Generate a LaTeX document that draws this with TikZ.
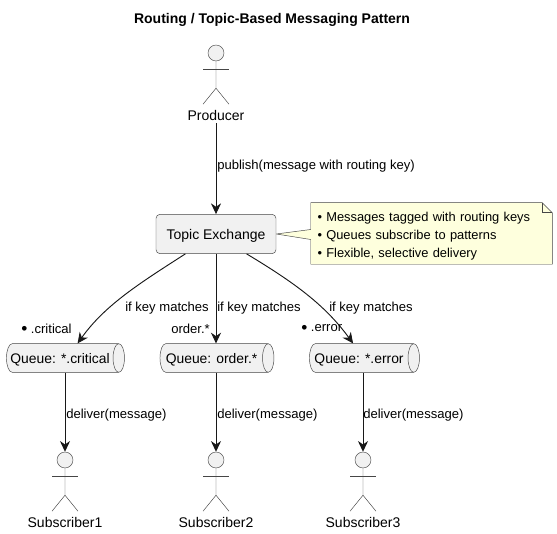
\documentclass[tikz,border=0pt]{standalone}
\usepackage{fontspec}
\setmainfont{Liberation Sans}
\usetikzlibrary{arrows.meta,shapes.geometric,backgrounds,calc}

\definecolor{boxfill}{HTML}{F1F1F1}
\definecolor{linecol}{HTML}{181818}
\definecolor{notefill}{HTML}{FEFFDD}
\newcommand{\qtxt}[1]{\makebox[0pt]{\hspace{-3.7pt}#1}}
\newcommand{\bigdot}{\raisebox{-1pt}{\fontsize{13}{12}\selectfont •}}

\tikzset{
    lbl/.style={
        inner sep=0pt,
        font=\fontsize{9.8}{12}\selectfont
    },
    actorlbl/.style={
        inner sep=0pt,
        outer sep=2.2pt,
        font=\fontsize{10.5}{12}\selectfont
    },
    exch/.style={
        draw=linecol!80,
        fill=boxfill,
        rounded corners=3pt,
        line width=.35pt,
        minimum width=90pt,
        minimum height=29.5pt,
        text height=11pt,
        text depth=2.2pt,
        font=\fontsize{10.5}{12}\selectfont
    },
    queue/.style={
        draw=linecol!80,
        cylinder,
        cylinder uses custom fill,
        cylinder body fill=boxfill,
        cylinder end fill=boxfill,
        shape aspect=.65,
        line width=.35pt,
        inner sep=0pt,
        minimum height=#1,
        minimum width=21.5pt,
        text height=11pt,
        text depth=2.2pt,
        font=\fontsize{10.4}{12}\selectfont
    },
    head/.style={
        draw=linecol!80,
        circle,
        fill=boxfill,
        line width=.35pt,
        inner sep=0pt,
        minimum size=12pt
    },
    limb/.style={
        draw=linecol!80,
        line width=.35pt
    },
    link/.style={
        draw=linecol,
        line width=.7pt,
        -{Stealth[length=8pt,width=7.5pt,inset=2.5pt]}
    }
}

\begin{document}
\begin{tikzpicture}[x=.75pt,y=-.75pt]
\useasboundingbox (0,0) rectangle (557,534);
		\path
			node[lbl,font=\fontsize{10.5}{12}\bfseries\selectfont] at (272,20) (title) {Routing / Topic-Based Messaging Pattern}
			node[exch] at (216,234) (exchange) {Topic Exchange}
			node[queue=88.5pt] at (62.5,358) (qcrit) {\qtxt{Queue: *.critical}}
			node[queue=85.5pt] at (214,358) (qorder) {\qtxt{Queue: order.*}}
			node[queue=82.5pt] at (361.5,358) (qerr) {\qtxt{Queue: *.error}}
			;
		% actors
		\foreach \name/\x/\y/\txt in {producer/216/53/Producer,sub1/65/460/Subscriber1,sub2/216/460/Subscriber2,sub3/363/460/Subscriber3} {
			\node[head] at (\x,\y) (\name) {};
			\node[actorlbl] at (\x,\y+62) (\name-lab) {\txt};
			\draw[limb] (\name.south) -- ++(0,27) ++(-13,16) -- ++(13,-16) -- ++(13,16);
			\draw[limb] ($(\name.south)+(-13,8)$) -- ++(26,0);
		}

		\node[minimum width=180.75pt,minimum height=45.75pt,inner sep=0pt,text width=171pt,align=left,
			font=\fontsize{9.65}{13.5}\selectfont] at (431.5,233.5) (note)
			{\rule{0pt}{11.7pt}• Messages tagged with routing keys\\• Queues subscribe to patterns\\• Flexible, selective delivery};
		\begin{scope}[on background layer]
			\draw[draw=linecol!80,fill=notefill,line width=.35pt]
				(note.north west) -- ($(note.north east)+(-10,0)$) -- ($(note.north east)+(0,10)$)
				-- (note.south east) -- (note.south west) -- ($(note.west)+(0,6)$)
				-- (exchange.east) -- ($(note.west)+(0,-4)$) -- cycle;
			\draw[draw=linecol!80,line width=.35pt]
				($(note.north east)+(-10,0)$) -- ($(note.north east)+(-10,10)$) -- ($(note.north east)+(0,10)$);
		\end{scope}

		\path
			(producer-lab) edge[link] (exchange)
			(exchange) edge[link] (qorder.north -| exchange)
			(qcrit.south -| sub1) edge[link] (sub1)
			(qorder.south -| sub2) edge[link] (sub2)
			(qerr.south -| sub3) edge[link] (sub3)
			;
		\draw[link] (exchange.213) .. controls (140,283) and (105,305) .. (qcrit.44);
		\draw[link] (exchange.-33) .. controls (295,283) and (325,305) .. (qerr.120);

		\path
			node[lbl,anchor=west] at (217,166) (lpub) {publish(message with routing key)}
			node[lbl,anchor=west] at (125,308) (lkey1) {if key matches}
			node[lbl,anchor=west] at (217,308) (lkey2) {if key matches}
			node[lbl,anchor=west] at (329,308) (lkey3) {if key matches}
			node[lbl,anchor=west] at (21,329) (lcrit) {\bigdot{} .critical}
			node[lbl,anchor=west] at (171,329) (lorder) {order.*}
			node[lbl,anchor=west] at (301,329) (lerr) {\bigdot{} .error}
			node[lbl,anchor=west] at (66,415) (ldel1) {deliver(message)}
			node[lbl,anchor=west] at (217,415) (ldel2) {deliver(message)}
			node[lbl,anchor=west] at (363,415) (ldel3) {deliver(message)}
			;
\end{tikzpicture}
\end{document}
